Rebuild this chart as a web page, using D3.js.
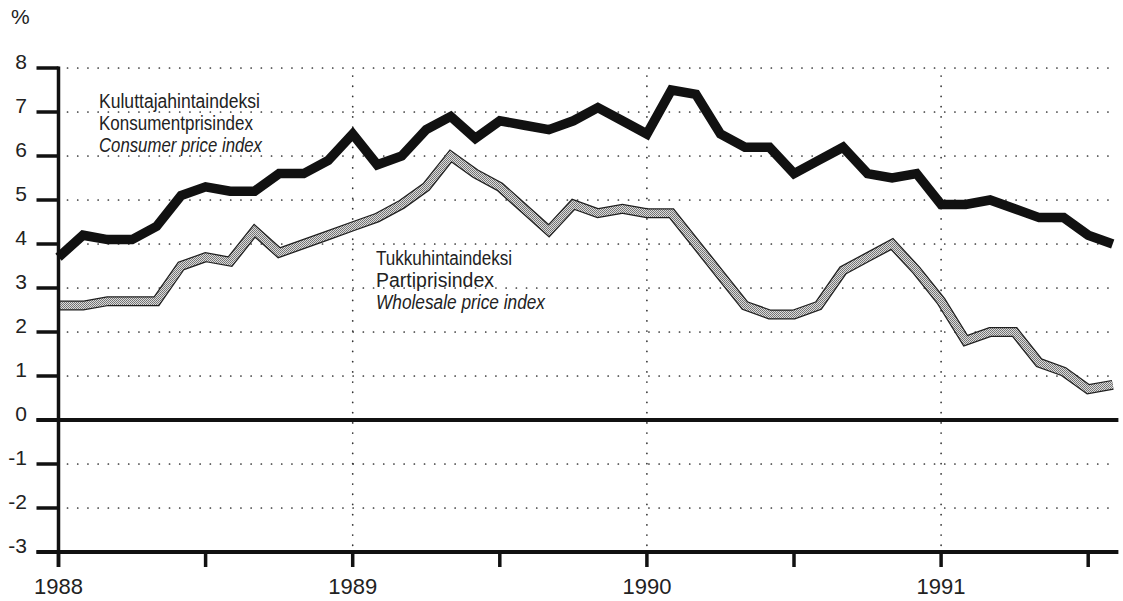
<!DOCTYPE html>
<html>
<head>
<meta charset="utf-8">
<script src="https://cdn.jsdelivr.net/npm/d3@7"></script>
<style>
  html, body { margin: 0; padding: 0; background: #fff; }
  svg { display: block; }
</style>
</head>
<body>
<svg id="chart" width="1123" height="601"></svg>
<script>
// ---- DATA ----
// Monthly observations, Jan 1988 .. Aug 1991 (month index 0 = Jan 1988)
const months = d3.range(44);
const consumerPrice = [
  3.7, 4.2, 4.1, 4.1, 4.4, 5.1, 5.3, 5.2, 5.2, 5.6, 5.6, 5.9,
  6.5, 5.8, 6.0, 6.6, 6.9, 6.4, 6.8, 6.7, 6.6, 6.8, 7.1, 6.8,
  6.5, 7.5, 7.4, 6.5, 6.2, 6.2, 5.6, 5.9, 6.2, 5.6, 5.5, 5.6,
  4.9, 4.9, 5.0, 4.8, 4.6, 4.6, 4.2, 4.0
];
const wholesalePrice = [
  2.6, 2.6, 2.7, 2.7, 2.7, 3.5, 3.7, 3.6, 4.3, 3.8, 4.0, 4.2,
  4.4, 4.6, 4.9, 5.3, 6.0, 5.6, 5.3, 4.8, 4.3, 4.9, 4.7, 4.8,
  4.7, 4.7, 4.0, 3.3, 2.6, 2.4, 2.4, 2.6, 3.4, 3.7, 4.0, 3.4,
  2.7, 1.8, 2.0, 2.0, 1.3, 1.1, 0.7, 0.8
];
const yTicks = [8, 7, 6, 5, 4, 3, 2, 1, 0, -1, -2, -3];
const yGridValues = [8, 7, 6, 5, 4, 3, 2, 1, -1, -2];
const yearTickMonths = [0, 12, 24, 36];
const yearTickLabels = ["1988", "1989", "1990", "1991"];
const halfYearTickMonths = [6, 18, 30, 42];
const cpiLabel = ["Kuluttajahintaindeksi", "Konsumentprisindex", "Consumer price index"];
const wpiLabel = ["Tukkuhintaindeksi", "Partiprisindex", "Wholesale price index"];
const unitLabel = "%";

// ---- SCALES ----
const x = d3.scaleLinear().domain([0, 12]).range([58.5, 352.7]);
const y = d3.scaleLinear().domain([-3, 8]).range([552, 68]);
const xEnd = 43.15;

const svg = d3.select("#chart");
const numFont = "'Liberation Sans', Arial, Helvetica, sans-serif";
const labFont = "'Liberation Sans Narrow', 'Liberation Sans', 'Roboto', sans-serif";

// pattern for wholesale line
const defs = svg.append("defs");
const pat = defs.append("pattern")
  .attr("id", "stipple").attr("patternUnits", "userSpaceOnUse")
  .attr("width", 2).attr("height", 2);
pat.append("rect").attr("width", 2).attr("height", 2).attr("fill", "#dcdcdc");
pat.append("rect").attr("width", 1).attr("height", 1).attr("fill", "#707070");
pat.append("rect").attr("x", 1).attr("y", 1).attr("width", 1).attr("height", 1).attr("fill", "#7a7a7a");

// ---- GRID ----
const grid = svg.append("g").attr("stroke", "#333").attr("stroke-width", 1.7)
  .attr("stroke-linecap", "round").attr("stroke-dasharray", "0.1,10.1");
grid.selectAll("line.h").data(yGridValues).join("line")
  .attr("class", "h")
  .attr("x1", x(0) + 9).attr("x2", x(xEnd) - 5)
  .attr("y1", d => y(d)).attr("y2", d => y(d));
grid.selectAll("line.v").data(yearTickMonths.slice(1)).join("line")
  .attr("class", "v")
  .attr("x1", d => x(d)).attr("x2", d => x(d))
  .attr("y1", y(8) + 8).attr("y2", y(-3) - 6);

// ---- LINES ----
const line = d3.line().x((d, i) => x(months[i])).y(d => y(d));

svg.append("path").datum(wholesalePrice)
  .attr("d", line).attr("fill", "none")
  .attr("stroke", "#1e1e1e").attr("stroke-width", 10)
  .attr("stroke-linejoin", "miter").attr("stroke-miterlimit", 3);
svg.append("path").datum(wholesalePrice)
  .attr("d", line).attr("fill", "none")
  .attr("stroke", "url(#stipple)").attr("stroke-width", 7.5)
  .attr("stroke-linejoin", "miter").attr("stroke-miterlimit", 3);

svg.append("path").datum(consumerPrice)
  .attr("d", line).attr("fill", "none")
  .attr("stroke", "#111").attr("stroke-width", 9.5)
  .attr("stroke-linejoin", "miter").attr("stroke-miterlimit", 3);

// ---- AXES ----
const axisColor = "#111";
svg.append("line")
  .attr("x1", x(0)).attr("x2", x(0))
  .attr("y1", y(8) - 1.5).attr("y2", y(-3) + 15)
  .attr("stroke", axisColor).attr("stroke-width", 3.5);
svg.selectAll("line.ytick").data(yTicks).join("line")
  .attr("class", "ytick")
  .attr("x1", x(0) - 22).attr("x2", x(0))
  .attr("y1", d => y(d)).attr("y2", d => y(d))
  .attr("stroke", axisColor).attr("stroke-width", 3.5);
[0, -3].forEach(v => {
  svg.append("line")
    .attr("x1", x(0) - 22).attr("x2", x(xEnd) + 2)
    .attr("y1", y(v)).attr("y2", y(v))
    .attr("stroke", axisColor).attr("stroke-width", 4);
});
svg.selectAll("line.xtick").data(yearTickMonths.concat(halfYearTickMonths)).join("line")
  .attr("class", "xtick")
  .attr("x1", d => x(d)).attr("x2", d => x(d))
  .attr("y1", y(-3)).attr("y2", y(-3) + 15)
  .attr("stroke", axisColor).attr("stroke-width", 3.5);

// y labels
svg.selectAll("text.ylab").data(yTicks).join("text")
  .attr("class", "ylab")
  .attr("x", 27).attr("y", d => y(d) + 1)
  .attr("text-anchor", "end")
  .attr("font-family", numFont).attr("font-size", 21)
  .attr("fill", "#222")
  .text(d => d);
svg.append("text").attr("x", 11).attr("y", 24)
  .attr("font-family", numFont).attr("font-size", 21).attr("fill", "#222")
  .text(unitLabel);

// x labels
svg.selectAll("text.xlab").data(yearTickMonths).join("text")
  .attr("class", "xlab")
  .attr("x", d => x(d)).attr("y", 594)
  .attr("text-anchor", "middle")
  .attr("font-family", numFont).attr("font-size", 22)
  .attr("fill", "#222")
  .text((d, i) => yearTickLabels[i]);

// series labels
function seriesLabel(lines, x0, baselines, widths) {
  lines.forEach((t, i) => {
    svg.append("text")
      .attr("x", x0).attr("y", baselines[i])
      .attr("font-family", labFont).attr("font-size", 20)
      .attr("font-style", i === 2 ? "italic" : "normal")
      .attr("fill", "#222")
      .attr("textLength", widths[i]).attr("lengthAdjust", "spacingAndGlyphs")
      .text(t);
  });
}
seriesLabel(cpiLabel, 99, [108, 130, 151.5], [161, 154, 163]);
seriesLabel(wpiLabel, 376, [265, 287, 308.5], [136, 118, 169]);
</script>
</body>
</html>
